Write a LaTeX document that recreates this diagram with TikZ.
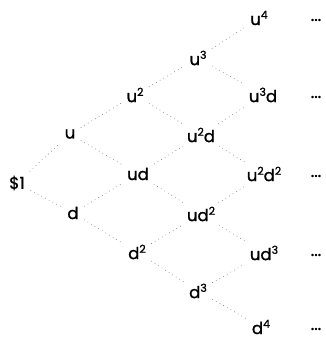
\documentclass[tikz,border=0pt]{standalone}
\usepackage{fontspec}
\setmainfont{Poppins}
\newfontfamily\lblfont[FakeBold=1.2]{Poppins}
\newcommand{\pw}[1]{\raisebox{0.38em}{\fontsize{11}{12}\selectfont #1}}
\begin{document}
\begin{tikzpicture}[x=1pt,y=-1pt,
  lbl/.style={inner sep=1pt, font=\lblfont\fontsize{16.5}{18}\selectfont},
  link/.style={draw=black!60, line width=0.6pt, dash pattern=on 0.6pt off 3.6pt, shorten >=5pt, shorten <=5pt}]
\useasboundingbox (0,0) rectangle (326,341);
% level 0
\node[lbl] (s)   at (17,183)  {\$1};
% level 1
\node[lbl] (u)   at (70,134)  {u};
\node[lbl] (d)   at (73,213)  {d};
% level 2
\node[lbl] (uu)  at (135,95)  {u\pw{2}};
\node[lbl] (ud)  at (138,174) {ud};
\node[lbl] (dd)  at (137,252) {d\pw{2}};
% level 3
\node[lbl] (u3)  at (198,58)  {u\pw{3}};
\node[lbl] (u2d) at (201,135) {u\pw{2}d};
\node[lbl] (ud2) at (201,214) {ud\pw{2}};
\node[lbl] (d3)  at (198,291) {d\pw{3}};
% level 4
\node[lbl] (u4)   at (259,18)  {u\pw{4}};
\node[lbl] (u3d)  at (263,95)  {u\pw{3}d};
\node[lbl] (u2d2) at (264,174) {u\pw{2}d\pw{2}};
\node[lbl] (ud3)  at (264,253) {ud\pw{3}};
\node[lbl] (d4)   at (261,327) {d\pw{4}};
% continuation marks
\foreach \n/\y in {a/20,b/97,c/176,e/255,f/329}
  \node[lbl] (dots\n) at (316,\y) {...};
% branches
\foreach \a/\b in {s/u,s/d,u/uu,u/ud,d/ud,d/dd,uu/u3,uu/u2d,ud/u2d,ud/ud2,dd/ud2,dd/d3,
                   u3/u4,u3/u3d,u2d/u3d,u2d/u2d2,ud2/u2d2,ud2/ud3,d3/ud3,d3/d4}
  \draw[link] (\a) -- (\b);
\end{tikzpicture}
\end{document}
